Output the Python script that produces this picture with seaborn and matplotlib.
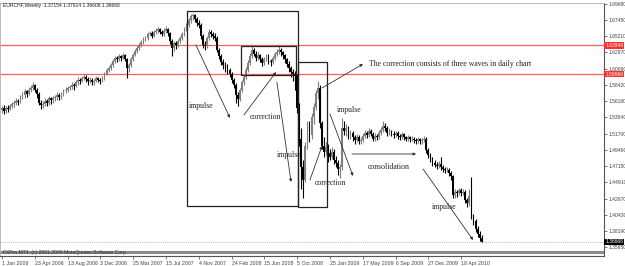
import matplotlib
matplotlib.use("Agg")
import matplotlib.pyplot as plt
from matplotlib.patches import Rectangle
import seaborn as sns
import numpy as np
import pandas as pd

# ---------------- data (weekly EURCHF) ----------------
opens = [1.549,1.552,1.548,1.552,1.551,1.555,1.558,1.560,1.562,1.561,1.568,1.570,1.576,1.572,1.578,1.580,
         1.584,1.577,1.572,1.560,1.556,1.558,1.562,1.560,1.566,1.563,1.566,1.568,1.571,1.568,1.572,1.576,
         1.578,1.580,1.582,1.585,1.583,1.588,1.592,1.590,1.594,1.596,1.593,1.590,1.592,1.588,1.590,1.594,
         1.592,1.590,1.594,1.600,
         1.605,1.608,1.612,1.618,1.622,1.620,1.624,1.622,1.626,1.620,1.608,1.612,1.620,1.626,1.632,1.636,
         1.640,1.644,1.648,1.650,1.655,1.657,1.653,1.658,1.660,1.662,1.658,1.655,1.660,1.662,1.656,1.645,
         1.636,1.642,1.640,1.645,1.650,1.655,1.662,1.668,1.674,1.680,1.681,1.676,1.670,1.668,1.652,1.640,
         1.638,1.650,1.658,1.655,
         1.652,1.650,1.633,1.625,1.616,1.612,1.608,1.605,1.600,1.591,1.585,1.570,1.565,1.577,1.588,1.596,
         1.605,1.615,1.625,1.633,1.628,1.622,1.626,1.620,1.615,1.620,1.624,1.618,1.616,1.622,1.627,1.630,
         1.633,1.630,1.626,1.620,1.614,1.608,1.602,1.600,1.598,1.552,1.510,1.470,1.452,1.500,1.527,1.515,
         1.540,1.554,1.573,1.580,
         1.532,1.500,1.492,1.498,1.490,1.485,1.492,1.480,1.476,1.468,1.470,1.525,1.520,1.525,1.515,1.518,
         1.512,1.508,1.512,1.506,1.508,1.514,1.518,1.515,1.520,1.517,1.510,1.514,1.512,1.518,1.522,1.528,
         1.525,1.518,1.520,1.517,1.515,1.518,1.514,1.512,1.516,1.512,1.510,1.512,1.509,1.510,1.508,1.507,
         1.509,1.506,1.508,1.510,
         1.494,1.487,1.482,1.476,1.474,1.472,1.475,1.470,1.468,1.466,1.467,1.462,1.458,1.432,1.436,1.434,
         1.438,1.434,1.436,1.425,1.420,1.430,1.402,1.395,1.384,1.378,1.37154]
highs = [1.555,1.556,1.555,1.556,1.558,1.561,1.563,1.566,1.565,1.571,1.574,1.579,1.578,1.581,1.584,1.589,
         1.586,1.580,1.575,1.564,1.562,1.566,1.565,1.569,1.568,1.569,1.571,1.574,1.573,1.575,1.579,1.581,
         1.583,1.585,1.588,1.587,1.591,1.595,1.594,1.597,1.599,1.598,1.595,1.595,1.594,1.593,1.597,1.596,
         1.594,1.597,1.603,1.608,
         1.611,1.615,1.621,1.625,1.624,1.627,1.626,1.629,1.628,1.622,1.615,1.623,1.629,1.635,1.639,1.643,
         1.647,1.651,1.653,1.658,1.660,1.659,1.661,1.663,1.665,1.664,1.661,1.663,1.666,1.664,1.658,1.648,
         1.645,1.646,1.648,1.653,1.658,1.665,1.671,1.677,1.683,1.685,1.683,1.679,1.674,1.670,1.655,1.645,
         1.653,1.662,1.661,1.658,
         1.656,1.652,1.636,1.628,1.620,1.616,1.613,1.608,1.603,1.594,1.587,1.574,1.580,1.591,1.600,1.609,
         1.619,1.629,1.638,1.636,1.631,1.630,1.628,1.623,1.623,1.628,1.627,1.621,1.625,1.630,1.634,1.638,
         1.636,1.632,1.628,1.622,1.617,1.611,1.606,1.604,1.600,1.560,1.525,1.480,1.505,1.535,1.535,1.545,
         1.560,1.578,1.590,1.585,
         1.535,1.512,1.505,1.503,1.496,1.498,1.495,1.486,1.480,1.475,1.538,1.535,1.530,1.528,1.522,1.521,
         1.515,1.516,1.515,1.512,1.518,1.522,1.521,1.524,1.523,1.519,1.518,1.517,1.522,1.526,1.534,1.531,
         1.527,1.524,1.522,1.520,1.521,1.520,1.517,1.519,1.518,1.514,1.515,1.514,1.513,1.512,1.511,1.512,
         1.511,1.511,1.513,1.512,
         1.497,1.490,1.485,1.480,1.478,1.479,1.484,1.474,1.471,1.471,1.469,1.465,1.460,1.440,1.439,1.442,
         1.441,1.440,1.438,1.428,1.440,1.457,1.406,1.398,1.388,1.382,1.37614]
lows = [1.545,1.544,1.546,1.547,1.549,1.552,1.554,1.557,1.556,1.559,1.565,1.567,1.568,1.570,1.575,1.577,
        1.574,1.566,1.556,1.551,1.552,1.555,1.555,1.557,1.558,1.560,1.562,1.564,1.563,1.565,1.569,1.573,
        1.575,1.577,1.579,1.578,1.581,1.585,1.586,1.588,1.591,1.589,1.585,1.587,1.584,1.585,1.588,1.588,
        1.586,1.588,1.592,1.598,
        1.602,1.605,1.610,1.615,1.616,1.618,1.618,1.620,1.617,1.594,1.602,1.610,1.618,1.624,1.629,1.633,
        1.637,1.641,1.645,1.647,1.652,1.650,1.651,1.655,1.657,1.655,1.652,1.653,1.657,1.652,1.641,1.625,
        1.632,1.635,1.637,1.642,1.647,1.652,1.659,1.665,1.671,1.675,1.672,1.666,1.664,1.648,1.636,1.633,
        1.636,1.647,1.651,1.648,
        1.646,1.630,1.620,1.612,1.607,1.603,1.600,1.595,1.587,1.580,1.559,1.555,1.562,1.574,1.585,1.593,
        1.602,1.612,1.622,1.624,1.618,1.619,1.616,1.611,1.612,1.617,1.614,1.611,1.613,1.619,1.624,1.627,
        1.625,1.621,1.615,1.609,1.603,1.596,1.590,1.578,1.545,1.500,1.440,1.427,1.450,1.495,1.505,1.510,
        1.530,1.550,1.565,1.525,
        1.495,1.485,1.487,1.478,1.480,1.482,1.475,1.470,1.460,1.455,1.466,1.515,1.514,1.510,1.509,1.506,
        1.503,1.505,1.502,1.503,1.505,1.511,1.511,1.512,1.513,1.506,1.507,1.508,1.509,1.515,1.519,1.520,
        1.514,1.515,1.513,1.511,1.512,1.510,1.508,1.509,1.508,1.506,1.507,1.505,1.506,1.504,1.503,1.504,
        1.502,1.503,1.505,1.490,
        1.483,1.478,1.472,1.470,1.468,1.469,1.466,1.464,1.462,1.463,1.458,1.453,1.428,1.428,1.429,1.431,
        1.430,1.431,1.421,1.415,1.417,1.398,1.390,1.381,1.374,1.368,1.36608]
closes = opens[1:] + [1.36668]

date_labels = ["1 Jan 2006", "23 Apr 2006", "13 Aug 2006", "3 Dec 2006", "25 Mar 2007",
               "15 Jul 2007", "4 Nov 2007", "24 Feb 2008", "15 Jun 2008", "5 Oct 2008",
               "25 Jan 2009", "17 May 2009", "6 Sep 2009", "27 Dec 2009", "18 Apr 2010"]
price_ticks = [1.69680, 1.67450, 1.65210, 1.62970, 1.60690, 1.58420, 1.56180, 1.53940,
               1.51700, 1.49460, 1.47150, 1.44910, 1.42670, 1.40430, 1.38190, 1.35950]
level_lines = [1.63948, 1.59960]
level_labels = ["1.63948", "1.59960"]
last_price = 1.36668
header = "EURCHF,Weekly  1.37154 1.37614 1.36608 1.36668"
footer = "FXPro MT4. (c) 2001-2009 MetaQuotes Software Corp."

# annotations: (week index, price)
boxes = [((90.2, 1.4164), (144.4, 1.6871)),
         ((144.4, 1.4150), (158.5, 1.6163)),
         ((116.6, 1.5983), (143.4, 1.6385))]
arrows = [((94.6, 1.6399), (111.2, 1.5386)),
          ((118.0, 1.5427), (133.7, 1.6024)),
          ((134.1, 1.5885), (141.0, 1.4497)),
          ((150.2, 1.4525), (156.1, 1.4997)),
          ((156.1, 1.5802), (176.1, 1.6135)),
          ((160.0, 1.5441), (171.2, 1.4581)),
          ((170.7, 1.4886), (202.0, 1.4886)),
          ((205.4, 1.4678), (229.8, 1.3692))]
notes = [(91.2, 1.5552, "impulse"), (121.0, 1.5400, "correction"), (134.1, 1.4872, "impulse"),
         (152.7, 1.4483, "correction"), (163.4, 1.5497, "impulse"), (178.5, 1.4706, "consolidation"),
         (209.8, 1.4150, "impulse"),
         (179.0, 1.6135, "The correction consists of three waves in daily chart")]

df = pd.DataFrame({"week": np.arange(len(closes)), "open": opens, "high": highs,
                   "low": lows, "close": closes})
df["up"] = df["close"] >= df["open"]

# ---------------- figure ----------------
sns.set_theme(style="white")
plt.rcParams["font.family"] = ["Liberation Sans", "DejaVu Sans"]

W, H = 625, 266
fig = plt.figure(figsize=(W / 100, H / 100), dpi=100)
fig.patch.set_facecolor("white")
ax = fig.add_axes([0, 10 / H, 604 / W, 253 / H])
ax.set_facecolor("white")

px_per_bar = 2.05
ax.set_xlim(-2 / px_per_bar, 602 / px_per_bar)
ppx = 0.001388
ax.set_ylim(1.6968 - 252 * ppx, 1.6968 + 1 * ppx)

# level lines
for lv in level_lines:
    ax.axhline(lv, color="#ff5c5c", lw=0.9, zorder=1)

# candles
up = df[df["up"]]
dn = df[~df["up"]]
ax.vlines(up["week"], up["low"], up["high"], color="#7f7f7f", lw=0.8, zorder=3)
ax.vlines(dn["week"], dn["low"], dn["high"], color="black", lw=0.8, zorder=3)
ax.bar(up["week"], (up["close"] - up["open"]).clip(lower=0.0005), bottom=up["open"],
       width=0.9, color="#7f7f7f", lw=0, zorder=4)
ax.bar(dn["week"], (dn["open"] - dn["close"]).clip(lower=0.0005), bottom=dn["close"],
       width=0.9, color="black", lw=0, zorder=4)

# last price dotted line, footer separator
ax.axhline(last_price, color="#9a9a9a", lw=0.6, ls=(0, (1, 1.5)), zorder=1)
ax.axhline(1.6968 - 247.5 * ppx, color="#8a8a8a", lw=2.2, zorder=2)
ax.text(1 / px_per_bar, 1.6968 - 248.5 * ppx, footer, fontsize=3.6, color="#333333",
        ha="left", va="center", zorder=5)

# boxes
for (x0, y0), (x1, y1) in boxes:
    ax.add_patch(Rectangle((x0, y0), x1 - x0, y1 - y0, fill=False, ec="#222222", lw=0.9, zorder=5))

# arrows
for (x0, y0), (x1, y1) in arrows:
    ax.annotate("", xy=(x1, y1), xytext=(x0, y0),
                arrowprops=dict(arrowstyle="-|>", color="#333333", lw=0.6,
                                mutation_scale=4, shrinkA=0, shrinkB=0), zorder=6)

for x, y, t in notes:
    ax.text(x, y, t, fontsize=5.6, family="Liberation Serif", color="#222222",
            ha="left", va="center", zorder=6)

# axes styling
for s in ["left", "top"]:
    ax.spines[s].set_color("#b0b0b0")
    ax.spines[s].set_linewidth(0.6)
for s in ["right", "bottom"]:
    ax.spines[s].set_color("#555555")
    ax.spines[s].set_linewidth(0.8)

ax.yaxis.tick_right()
ax.set_yticks(price_ticks)
ax.set_yticklabels([f"{v:.5f}" for v in price_ticks])
ax.tick_params(axis="y", which="major", length=2, width=0.5, pad=1, labelsize=3.6,
               colors="#444444", right=True, left=False)
ax.set_xticks(np.arange(len(date_labels)) * 16)
ax.set_xticklabels(date_labels)
ax.tick_params(axis="x", which="major", length=2, width=0.5, pad=1.5, labelsize=3.8,
               colors="#444444", bottom=True)
for lab in ax.get_xticklabels():
    lab.set_ha("left")
ax.grid(False)

# price boxes on the axis
for lv, lt in zip(level_lines, level_labels):
    ax.text(1.002, lv, lt, transform=ax.get_yaxis_transform(), fontsize=3.6, color="white",
            ha="left", va="center", zorder=7,
            bbox=dict(boxstyle="square,pad=0.15", fc="#ff3030", ec="none"), clip_on=False)
ax.text(1.002, last_price, f"{last_price:.5f}", transform=ax.get_yaxis_transform(),
        fontsize=3.6, color="white", ha="left", va="center", zorder=7,
        bbox=dict(boxstyle="square,pad=0.15", fc="black", ec="none"), clip_on=False)

fig.text(3 / W, 1 - 6 / H, header, fontsize=3.6, color="#222222", ha="left", va="center")

fig.savefig("out.png", dpi=100, facecolor="white")
